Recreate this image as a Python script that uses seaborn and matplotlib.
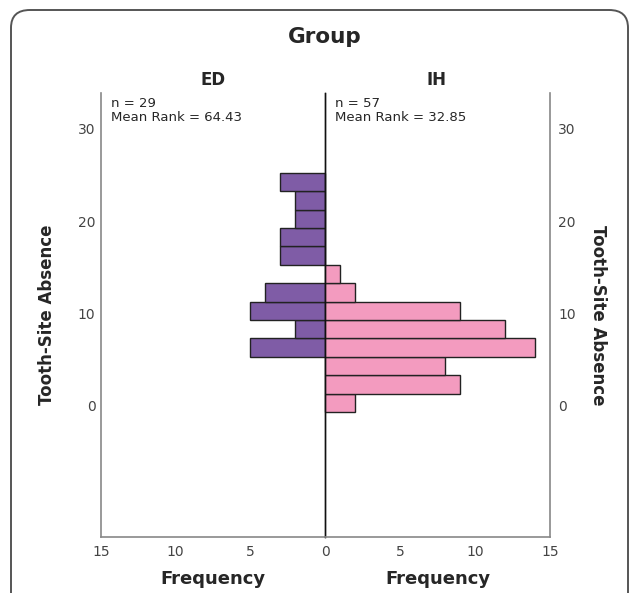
import numpy as np
import pandas as pd
import seaborn as sns
import matplotlib.pyplot as plt
from matplotlib.patches import FancyBboxPatch

# data: bar centres (Tooth-Site Absence) and frequencies
bin_centers = [0.25, 2.25, 4.25, 6.25, 8.25, 10.25, 12.25, 14.25, 16.25, 18.25, 20.25, 22.25, 24.25]
ed_counts = [0, 0, 0, 5, 2, 5, 4, 0, 3, 3, 2, 2, 3]
ih_counts = [2, 9, 8, 14, 12, 9, 2, 1, 0, 0, 0, 0, 0]
groups = ['ED', 'IH']
n_labels = ['n = 29\nMean Rank = 64.43', 'n = 57\nMean Rank = 32.85']
x_ticks = [0, 5, 10, 15]
y_ticks = [0, 10, 20, 30]

bin_edges = [c - 1 for c in bin_centers] + [bin_centers[-1] + 1]

sns.set_style('white')
plt.rcParams['font.family'] = ['DejaVu Sans']

fig = plt.figure(figsize=(6.3, 5.93), dpi=100)
W, H = 630, 593

def fx(px):
    return px / W

def fy(py):
    return 1 - py / H

ax_l = fig.add_axes([fx(101), fy(537), fx(325 - 101), (537 - 93) / H])
ax_r = fig.add_axes([fx(325), fy(537), fx(550 - 325), (537 - 93) / H])
ax_r.patch.set_visible(False)

colors = ['#7f5ca6', '#f39bbf']
for ax, counts, col, lab in zip([ax_l, ax_r], [ed_counts, ih_counts], colors, n_labels):
    df = pd.DataFrame({'absence': bin_centers, 'freq': counts})
    sns.histplot(data=df, y='absence', weights='freq', bins=bin_edges, ax=ax,
                 color=col, edgecolor='#222222', linewidth=1.0, alpha=1)
    ax.set_xlim(0, 15)
    ax.set_ylim(-14.3, 33.9)
    ax.set_xticks(x_ticks)
    ax.set_yticks(y_ticks)
    ax.set_xlabel('Frequency', fontsize=13, fontweight='bold', labelpad=8)
    ax.set_ylabel('')
    ax.tick_params(length=0, labelsize=10, colors='#444444', pad=6)
    ax.text(0.045, 0.99, lab, transform=ax.transAxes, ha='left', va='top',
            fontsize=9.5, linespacing=1.1)
    for s in ax.spines.values():
        s.set_color('#888888')
        s.set_linewidth(1.2)
    ax.spines['top'].set_visible(False)

ax_l.invert_xaxis()
ax_l.spines['right'].set_color('#111111')
ax_l.spines['right'].set_linewidth(1.0)
ax_r.spines['left'].set_color('#111111')
ax_r.spines['left'].set_linewidth(1.0)
ax_r.set_xticks(x_ticks[1:])
ax_r.yaxis.tick_right()
ax_r.tick_params(axis='y', pad=6)
ax_l.tick_params(axis='y', pad=4)
for t in ax_r.get_yticklabels():
    t.set_ha('left')

ax_l.set_ylabel('Tooth-Site Absence', fontsize=12, fontweight='bold', labelpad=16)
ax_r.yaxis.set_label_position('right')
ax_r.set_ylabel('Tooth-Site Absence', fontsize=12, fontweight='bold', rotation=270,
                labelpad=22)

fig.text(fx(213), fy(80), groups[0], ha='center', va='center', fontsize=12, fontweight='bold')
fig.text(fx(437), fy(80), groups[1], ha='center', va='center', fontsize=12, fontweight='bold')
fig.text(fx(325), fy(37), 'Group', ha='center', va='center', fontsize=15.5, fontweight='bold')

border = FancyBboxPatch((fx(11), fy(640)), fx(617), (640 - 10) / H,
                        boxstyle='round,pad=0,rounding_size=0.03',
                        transform=fig.transFigure, fill=False,
                        edgecolor='#555555', linewidth=1.4)
fig.patches.append(border)

fig.savefig('out.png', dpi=100)
